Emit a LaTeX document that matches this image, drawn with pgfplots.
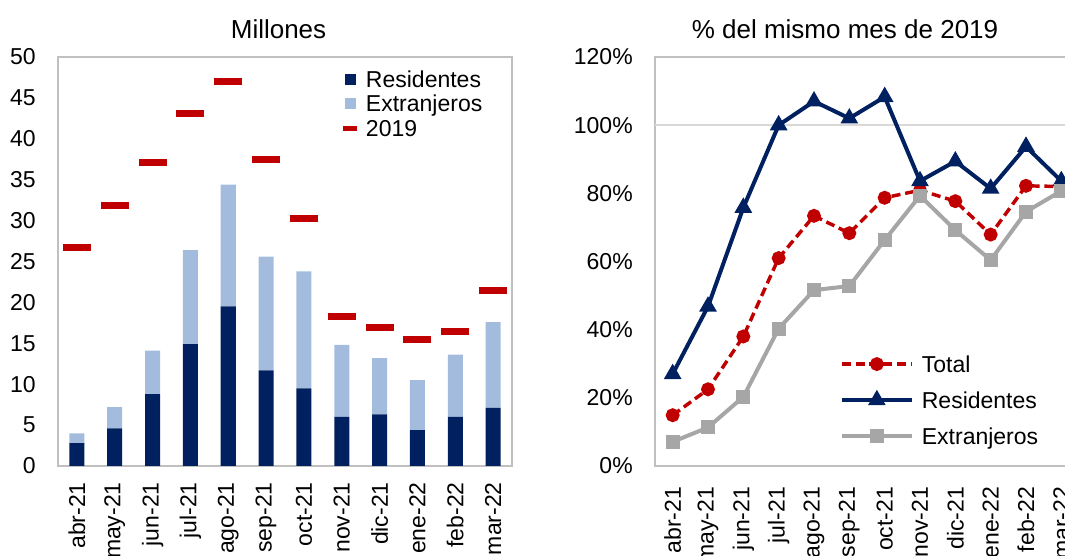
\documentclass[border=0pt]{standalone}
\usepackage{fontspec}
\setmainfont{Liberation Sans}
\usepackage{pgfplots}
\pgfplotsset{compat=1.18}
\definecolor{navy}{HTML}{002060}
\definecolor{lblue}{HTML}{A3BBDC}
\definecolor{red19}{HTML}{C00000}
\definecolor{gline}{HTML}{A6A6A6}
\definecolor{framec}{HTML}{C0C0C0}
\definecolor{gridc}{HTML}{D9D9D9}
\newcommand{\fs}{\fontsize{17.25}{19}\selectfont}
\newcommand{\ft}{\fontsize{19.5}{22}\selectfont}
\pgfplotsset{
  common/.style={
    scale only axis, height=306.75pt, anchor=south west,
    xmin=-0.5, xmax=11.5, xtick={0,...,11},
    xticklabels={abr-21,may-21,jun-21,jul-21,ago-21,sep-21,oct-21,nov-21,dic-21,ene-22,feb-22,mar-22},
    major tick length=0pt,
    axis line style={draw=framec, line width=1pt},
    tick label style={font=\fs},
    /pgf/number format/assume math mode=true,
    xticklabel style={rotate=90, anchor=east, inner sep=0pt},
    yticklabel style={anchor=east, inner sep=0pt},
    yticklabel shift=16.5pt,
  }
}
\begin{document}
\begin{tikzpicture}
% ---------- left chart ----------
\begin{axis}[common, at={(43.5pt,67.5pt)}, width=340.5pt,
  ymin=0, ymax=50, ytick={0,5,...,50},
  ybar stacked, bar width=11.25pt,
  xticklabel shift=12pt,
  legend style={draw=none, fill=none, at={(0.6233,0.969)}, anchor=north west,
    inner sep=0pt, outer sep=0pt, row sep=4.4pt, column sep=4.5pt, font=\fs,
    nodes={inner sep=0pt, text height=13pt, text depth=1pt}},
  legend cell align=left]
\addplot[fill=navy, draw=none,
  legend image code/.code={\fill[navy] (0pt,-4.125pt) rectangle (8.25pt,4.125pt);}]
  coordinates {(0,2.8) (1,4.6) (2,8.8) (3,14.9) (4,19.5) (5,11.7) (6,9.5) (7,6.0) (8,6.3) (9,4.4) (10,6.0) (11,7.1)};
\addlegendentry{Residentes}
\addplot[fill=lblue, draw=none,
  legend image code/.code={\fill[lblue] (0pt,-4.125pt) rectangle (8.25pt,4.125pt);}]
  coordinates {(0,1.2) (1,2.6) (2,5.3) (3,11.5) (4,14.9) (5,13.9) (6,14.3) (7,8.8) (8,6.9) (9,6.1) (10,7.6) (11,10.5)};
\addlegendentry{Extranjeros}
\addlegendimage{legend image code/.code={\draw[red19, line width=3.75pt] (-1.125pt,0pt) -- (9.375pt,0pt);}}
\addlegendentry{2019}
\end{axis}
\begin{axis}[scale only axis, at={(43.5pt,67.5pt)}, anchor=south west,
  width=340.5pt, height=306.75pt, xmin=-0.5, xmax=11.5, ymin=0, ymax=50, hide axis]
\addplot[only marks, mark=-, mark size=10.5pt, mark options={draw=red19, line width=5.25pt}]
  coordinates {(0,26.75) (1,31.8) (2,37.1) (3,43.1) (4,47.0) (5,37.5) (6,30.3) (7,18.3) (8,16.9) (9,15.5) (10,16.5) (11,21.5)};
\end{axis}
\node[font=\ft, anchor=base] at (208.9pt,388.4pt) {Millones};
% ---------- right chart ----------
\begin{axis}[common, at={(491.25pt,67.5pt)}, width=318pt,
  ymin=0, ymax=120, ytick={0,20,...,120},
  yticklabel={\pgfmathprintnumber{\tick}\%},
  xticklabel shift=15.5pt,
  extra y ticks={100}, extra y tick labels={},
  extra y tick style={grid=major, major grid style={draw=gridc, line width=1pt}},
  legend image code/.code={\draw[mark repeat=2,mark phase=2,#1] plot coordinates {(0pt,0pt) (26.25pt,0pt) (52.5pt,0pt)};},
  legend style={draw=none, fill=none, at={(0.436,0.272)}, anchor=north west,
    inner sep=0pt, outer sep=0pt, row sep=13pt, column sep=6pt, font=\fs,
    nodes={inner sep=0pt, text height=13pt, text depth=1pt}},
  legend cell align=left]
\addplot[red19, line width=2.6pt, dash pattern=on 6.75pt off 3.6pt, mark=*, mark size=3.9pt, mark options={solid}]
  coordinates {(0,14.9) (1,22.5) (2,38) (3,61) (4,73.4) (5,68.3) (6,78.7) (7,80.9) (8,77.7) (9,67.9) (10,82.2) (11,82)};
\addlegendentry{Total}
\addplot[navy, line width=3pt, mark=triangle*, mark size=4.7pt, mark options={solid}]
  coordinates {(0,27) (1,46.8) (2,75.8) (3,100) (4,107) (5,102) (6,108.3) (7,83.6) (8,89.4) (9,81.4) (10,93.7) (11,83.6)};
\addlegendentry{Residentes}
\addplot[gline, line width=3pt, mark=square*, mark size=3.75pt, mark options={solid}]
  coordinates {(0,7.1) (1,11.3) (2,20.3) (3,40.3) (4,51.6) (5,52.8) (6,66.3) (7,79.3) (8,69.2) (9,60.4) (10,74.6) (11,80.7)};
\addlegendentry{Extranjeros}
\end{axis}
\node[font=\ft, anchor=base] at (633.75pt,388.4pt) {\% del mismo mes de 2019};
\pgfresetboundingbox
\path[use as bounding box] (0pt,0pt) rectangle (798.75pt,417pt);
\end{tikzpicture}
\end{document}
